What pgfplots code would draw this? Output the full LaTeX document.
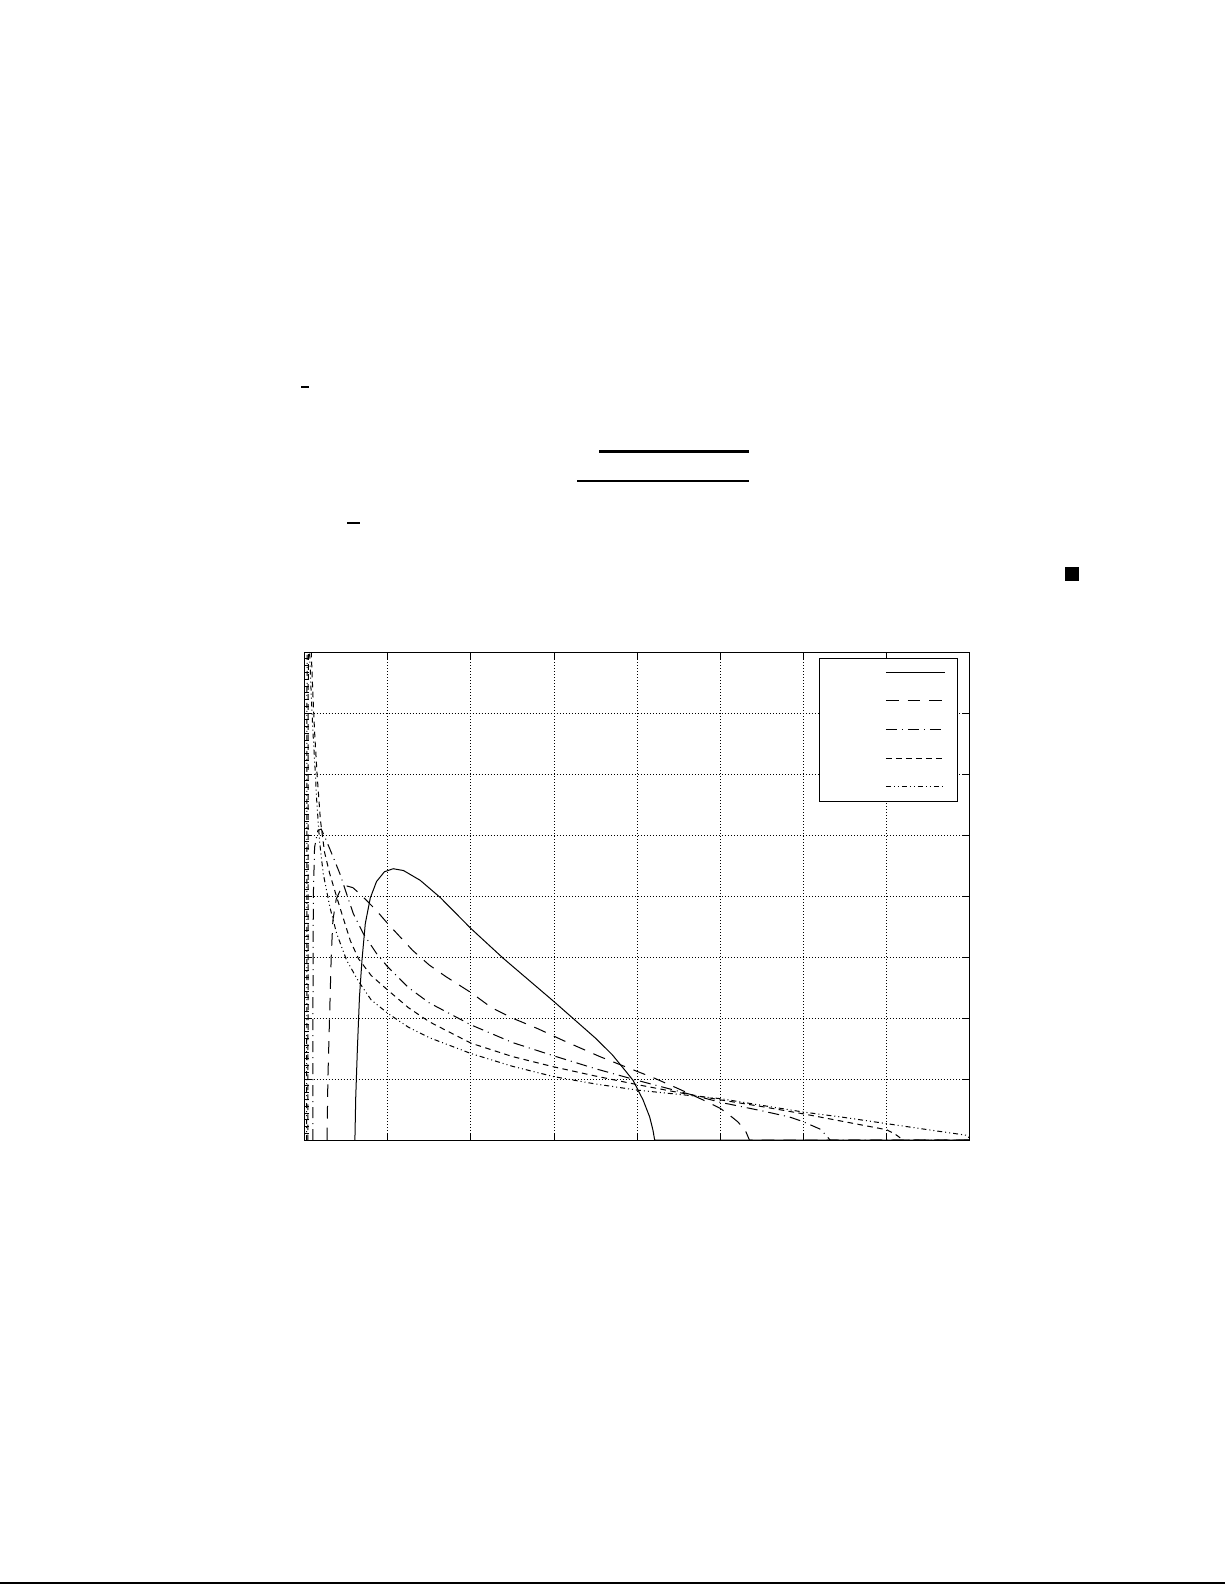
\documentclass[border=0pt]{standalone}
\usepackage{pgfplots}
\pgfplotsset{compat=1.18}
\begin{document}
\begin{tikzpicture}
% letter page, the figure sits where it does in the scan
\useasboundingbox (0,0) rectangle (612bp,792bp);
% marks left on the page around the figure
\fill (150.4bp,598.0bp) rectangle (154.4bp,599.1bp);
\fill (299.3bp,565.7bp) rectangle (374.2bp,566.9bp);
\fill (288.3bp,550.9bp) rectangle (374.2bp,552.1bp);
\fill (173.4bp,530.0bp) rectangle (179.9bp,531.1bp);
\fill (532.1bp,501.6bp) rectangle (539.1bp,508.6bp);
\fill (0bp,0.6bp) rectangle (612bp,1.6bp);

% left minor ticks only
\begin{axis}[
  at={(152.2bp,222.3bp)}, anchor=south west,
  scale only axis, width=332.4bp, height=243.8bp,
  xmin=0, xmax=8, ymin=0, ymax=8,
  xtick=\empty, ytick={0,...,8}, yticklabel=\empty,
  minor y tick num=8, ytick pos=left,
  major tick length=0pt, minor tick length=2bp,
  tick style={black, line width=0.5bp},
  axis line style={draw=none},
]
\end{axis}

\begin{axis}[
  at={(152.2bp,222.3bp)}, anchor=south west,
  scale only axis, width=332.4bp, height=243.8bp,
  xmin=0, xmax=8, ymin=0, ymax=8,
  xtick={0,...,8}, ytick={0,...,8},
  xticklabel=\empty, yticklabel=\empty,
  tick align=inside, major tick length=3.5bp,
  tick style={black, line width=0.5bp},
  axis line style={black, line width=0.6bp},
  grid=major,
  major grid style={black, line width=0.55bp, dash pattern=on 0.6bp off 0.9bp},
  legend plot pos=right,
  legend style={at={(1,1)}, anchor=north east, xshift=-5.85bp, yshift=-2.65bp,
    draw=black, line width=0.5bp, inner sep=0pt, row sep=0pt, column sep=0pt,
    nodes={inner sep=0pt, anchor=center}},
  legend image code/.code={
    \path[draw=none, fill=none] (0,-7.15bp) rectangle (35.8bp,7.15bp);
    \draw[#1] (0,0) -- (29.5bp,0);},
  every axis plot/.append style={black, line width=0.5bp},
]
\addplot[solid] coordinates {
 (0.605,0) (0.615,0.7) (0.635,1.5) (0.66,2.35) (0.69,2.95) (0.73,3.55)
 (0.79,3.97) (0.865,4.24) (0.96,4.40) (1.065,4.45) (1.19,4.42) (1.39,4.26)
 (1.63,3.98) (2.0,3.47) (2.39,2.98) (3.0,2.27) (3.3,1.91) (3.5,1.67)
 (3.7,1.40) (3.85,1.15) (3.95,0.98) (4.07,0.66) (4.15,0.38) (4.19,0.16) (4.21,0)
 (8,0)};
\addlegendentry{\hspace*{33.2bp}}
\addplot[dash pattern=on 6.3bp off 4.5bp] coordinates {
 (0.27,0) (0.28,1) (0.30,2) (0.32,3) (0.34,3.6) (0.38,3.95) (0.44,4.13)
 (0.5,4.17) (0.58,4.14) (0.68,4.02) (0.86,3.77) (1.0,3.55) (1.3,3.11)
 (1.5,2.87) (1.7,2.68) (2.0,2.42) (2.25,2.17) (2.5,2.0) (2.8,1.83)
 (3.1,1.64) (3.55,1.37) (3.9,1.18) (4.2,1.02) (4.5,0.84) (4.79,0.66)
 (5.0,0.52) (5.11,0.41) (5.21,0.30) (5.30,0.16) (5.35,0) (8,0)};
\addlegendentry{\hspace*{33.2bp}}
\addplot[dash pattern=on 5.5bp off 2.5bp on 0.5bp off 2.5bp] coordinates {
 (0.10,0) (0.10,2) (0.105,4) (0.12,4.8) (0.16,5.08) (0.2,5.1) (0.244,4.97)
 (0.344,4.64) (0.424,4.37) (0.505,4.04) (0.584,3.72) (0.704,3.39)
 (0.865,3.06) (1.0,2.84) (1.25,2.5) (1.5,2.25) (2.0,1.89) (2.5,1.6)
 (3.0,1.38) (3.5,1.17) (4.0,0.98) (4.5,0.80) (5.0,0.62) (5.5,0.48)
 (5.83,0.38) (6.0,0.30) (6.2,0.18) (6.27,0.08) (6.32,0) (8,0)};
\addlegendentry{\hspace*{33.2bp}}
\addplot[dash pattern=on 2.8bp off 2.2bp] coordinates {
 (0.04,0) (0.045,9.5) (0.065,9.3) (0.08,8) (0.1,7.3) (0.12,6.7) (0.15,6.0)
 (0.19,5.25) (0.24,4.72) (0.30,4.38) (0.385,3.99) (0.46,3.66) (0.55,3.27)
 (0.65,2.97) (0.8,2.7) (1.0,2.46) (1.25,2.17) (1.5,1.94) (2.0,1.59)
 (2.5,1.37) (3.0,1.20) (3.5,1.05) (4.0,0.91) (4.5,0.78) (5.0,0.66)
 (5.5,0.55) (6.0,0.43) (6.5,0.30) (7.0,0.17) (7.1,0.1) (7.16,0.04) (7.2,0) (8,0)};
\addlegendentry{\hspace*{33.2bp}}
\addplot[dash pattern=on 2.5bp off 1.5bp on 0.5bp off 1.5bp on 0.5bp off 1.5bp] coordinates {
 (0.025,0) (0.03,9.5) (0.05,9.2) (0.06,8) (0.08,7.3) (0.1,6.7) (0.13,6.0)
 (0.144,5.6) (0.18,4.9) (0.224,4.37) (0.304,3.82) (0.385,3.39) (0.505,2.95)
 (0.65,2.6) (0.8,2.3) (1.0,2.08) (1.25,1.85) (1.5,1.68) (2.0,1.42)
 (2.5,1.21) (3.0,1.04) (3.5,0.92) (4.0,0.82) (4.5,0.75) (5.0,0.68)
 (5.5,0.57) (6.0,0.46) (6.5,0.37) (7.0,0.27) (7.5,0.17) (7.96,0.08) (8,0.03)};
\addlegendentry{\hspace*{33.2bp}}
\end{axis}
\end{tikzpicture}
\end{document}
